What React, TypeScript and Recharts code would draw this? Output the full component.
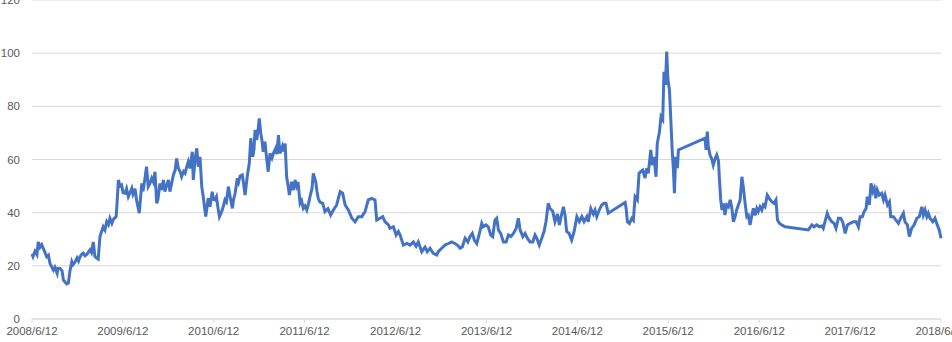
import { LineChart, Line, XAxis, YAxis, CartesianGrid } from "recharts"

// days since 2008/6/12
const days = [
  0, 4, 12, 20, 25, 32, 39, 48, 59, 66, 72, 86, 92, 101, 104, 113, 121, 126, 139, 146, 153, 160, 165, 173, 181, 187, 193, 201, 206, 213, 221, 233, 239, 246, 253, 261, 266, 273, 286, 293, 300, 307, 313, 321, 327, 338, 342, 347, 354, 360, 366, 374, 380, 387, 394, 401, 406, 414, 420, 431, 441, 446, 454, 460, 467, 474, 481, 488, 494, 501, 506, 514, 520,
  528, 534, 540, 548, 554, 561, 568, 575, 581, 588, 595, 601, 609, 615, 621, 628, 635, 644, 648, 655, 662, 668, 675, 682, 688, 698, 703, 708, 715, 724, 729, 735, 741, 747, 753, 762, 769, 775, 781, 789, 796, 805, 810, 816, 825, 830, 836, 845, 850, 856, 865, 873, 879, 887, 892, 896, 903, 908, 913, 919, 924, 929, 936, 942, 949, 956, 964, 970, 979, 984, 990, 996, 1006, 1010, 1017, 1023, 1029, 1034, 1043,
  1050, 1057, 1063, 1069, 1077, 1083, 1090, 1097, 1104, 1111, 1120, 1125, 1130, 1140, 1145, 1150, 1157, 1168, 1177, 1189, 1200, 1211, 1224, 1238, 1248, 1258, 1271, 1285, 1298, 1311, 1325, 1338, 1351, 1365, 1378, 1385, 1398, 1409, 1418, 1432, 1438, 1452, 1463, 1472, 1479, 1492, 1506, 1519, 1532, 1543, 1552, 1566, 1579,
  1588, 1599, 1612, 1626, 1632, 1646, 1659, 1673, 1686, 1699, 1709, 1720, 1729, 1740, 1751, 1760, 1769, 1777, 1787, 1796, 1807, 1813, 1824, 1833, 1843, 1851, 1860, 1867, 1874, 1883, 1894, 1905, 1914, 1924, 1934, 1945, 1954, 1961, 1972, 1981, 1990, 2001, 2012, 2021, 2028, 2038, 2048, 2057, 2065, 2074, 2081, 2092,
  2101, 2111, 2119, 2128, 2135, 2142, 2148, 2158, 2168, 2178, 2189, 2199, 2209, 2218, 2229, 2235, 2245, 2255, 2262, 2269, 2279, 2289, 2298, 2306, 2315, 2383, 2387, 2392, 2400, 2410, 2416, 2423, 2432, 2439, 2446, 2454, 2463, 2470, 2476, 2486, 2492, 2499, 2507, 2512, 2521, 2527, 2534, 2539, 2545, 2550, 2555, 2561, 2566, 2572, 2577, 2581, 2586, 2593, 2597,
  2704, 2708, 2713, 2717, 2724, 2731, 2737, 2744, 2751, 2758, 2762, 2767, 2772, 2778, 2784, 2791, 2798, 2805, 2811, 2818, 2825, 2831, 2838, 2845, 2852, 2858, 2865, 2872, 2878, 2885, 2892, 2898, 2905, 2912, 2918, 2925, 2932, 2938, 2945, 2954, 2962, 2972, 2981, 2989, 2995, 3003, 3012, 3026,
  3119, 3133, 3142, 3153, 3163, 3173, 3179, 3186, 3195, 3203, 3213, 3222, 3230, 3240, 3249, 3257, 3267, 3276, 3287, 3300, 3311, 3320, 3327, 3336, 3343, 3351, 3356, 3364, 3371, 3378, 3384, 3390, 3396, 3404, 3414, 3421, 3427, 3437, 3445, 3450, 3461, 3471, 3481, 3490, 3501, 3507, 3517, 3525, 3534, 3544, 3555, 3565, 3575, 3581, 3588, 3595, 3601, 3608, 3619, 3628, 3637, 3645, 3652,
]

const values = [
  24.5, 23.5, 25.5, 24.2, 29, 27, 28, 26, 23.4, 24, 21, 18.4, 19.5, 17.2, 19, 19, 18, 14.7, 13.2, 13.5, 18.4, 21.6, 20.5, 21.5, 23, 21.8, 23.4, 24.5, 24.8, 23.8, 24.4, 26, 25, 29, 23.4, 22.8, 22.5, 31, 34.7, 33.5, 36.6, 35.5, 37.9, 36, 37.5, 38.5, 44, 52.3, 50, 50.4, 47.5, 47.3, 49, 46, 47.5, 49.2, 47, 49, 44.8, 39.8, 51, 48, 53, 57.3, 49.8, 51, 53, 51.5, 55.4, 43.5, 45, 51, 48.5,
  52.3, 47.9, 50, 52.3, 47.9, 51, 54.2, 56, 60.4, 56.7, 55.5, 53.5, 55.5, 54.8, 57, 59.2, 56.7, 62.9, 52.3, 60, 64.2, 57.3, 61, 49.8, 46, 38.5, 42, 45.4, 42.2, 47.9, 45, 44.8, 46, 42, 38.5, 40.4, 42.5, 44.8, 44, 49.8, 46, 41.6, 45, 47.3, 53, 51.5, 53.8, 54.2, 51, 46.6, 53.8, 58.6, 68, 61, 64, 71.1, 67.3, 71, 75.5, 70, 67, 62.9, 66.7, 61, 55.4, 62.3, 60.5, 62.3, 64.2, 62, 69.2, 62.3, 65, 63, 66, 53.5, 50, 46.6, 51.6,
  48.5, 52.3, 50, 51.5, 43.5, 44.5, 41.6, 42.5, 41, 43.5, 47.3, 49, 54.8, 51.6, 48, 45.4, 44, 43.5, 40.4, 41.5, 39.1, 41, 42.9, 47.9, 47.3, 42.9, 41, 37.9, 36.6, 38.5, 38.5, 40.4, 44.8, 45.4, 44.8, 37.2, 37.9, 38.5, 36.6, 35.4, 34.1, 34.7, 31.6, 32.9, 31.6, 27.8, 28.4, 27.8, 29, 27.4, 29, 25.3, 27,
  25.3, 26.6, 24.7, 24.1, 25.3, 26.6, 27.8, 28.4, 29, 28.4, 27.8, 26.6, 27.2, 30.4, 29, 31, 32.2, 29.7, 28.4, 31.6, 36, 34.7, 35.4, 34.7, 31.6, 31, 37.2, 37.9, 33.5, 32.2, 29, 29, 31.6, 31, 32.2, 34.1, 37.9, 33.5, 31, 32.2, 30.4, 29, 29, 31.6, 30.4, 27.8, 30.4, 32.9, 36.6, 43.5, 41.6, 40.5,
  36.6, 39.5, 35.4, 39.5, 42.2, 38.8, 32.9, 32.2, 29.7, 32.9, 38.5, 36.6, 38.5, 36.6, 38.5, 36.6, 41.6, 39.5, 41, 38.5, 41, 42.9, 43.5, 43.5, 39.8, 43.8, 41.6, 36.6, 35.9, 37.9, 37.2, 46, 44.8, 54.8, 55.4, 56, 53, 56.7, 54.8, 63.6, 57.9, 61, 53.5, 66, 70.5, 76.1, 75, 93, 88, 100.6, 89.9, 86.2, 76, 63.6, 56, 47.3, 61, 56.7, 63.6,
  68, 63.6, 70.5, 65.2, 61.7, 60.2, 57.9, 60.2, 61.7, 59.5, 52.3, 44.8, 41, 43.5, 39.1, 42.9, 42.2, 44.8, 42.2, 36.6, 38.5, 41, 42.9, 44.8, 53.5, 49.5, 43.5, 38.5, 39, 35.4, 39, 41.6, 39, 41.6, 40.4, 42.2, 41, 42.9, 42.2, 46.6, 45.4, 44.1, 43.5, 44.8, 37.2, 36, 35.4, 34.7,
  33.5, 35.4, 34.7, 35.4, 34.7, 35, 34.1, 36.6, 39.8, 37.9, 36.6, 36, 34.1, 37.9, 37.9, 36.6, 32.2, 35.4, 36, 36.6, 36.6, 34.7, 38.5, 38.5, 40.4, 41.6, 46, 42.9, 51, 47.9, 49.2, 45.4, 48.5, 46.6, 47.3, 44.8, 46.6, 42.9, 44.1, 38.5, 38.5, 37.2, 36, 37.9, 39.8, 36.6, 35.4, 31, 34.1, 35.4, 37.9, 38.5, 42.2, 39.1, 41, 38.5, 39.8, 37.9, 36.6, 37.9, 35.4, 33.5, 30.4,
]

const yearTicks = [0, 365, 730, 1095, 1461, 1826, 2191, 2556, 2922, 3287, 3652]
const yearLabels = [
  "2008/6/12", "2009/6/12", "2010/6/12", "2011/6/12", "2012/6/12", "2013/6/12",
  "2014/6/12", "2015/6/12", "2016/6/12", "2017/6/12", "2018/6/12",
]
const valueTicks = [0, 20, 40, 60, 80, 100, 120]

const data = days.map((d, i) => ({ day: d, value: values[i] }))

const axisText = { fill: "#595959", fontSize: 11.5, fontFamily: "Liberation Sans, Arial, sans-serif" }

export default function App() {
  return (
    <div style={{ position: "absolute", left: 0, top: 0, width: 952, height: 342, background: "#fff" }}>
      <LineChart width={952} height={342} data={data} margin={{ top: 0, right: 11, left: 0, bottom: 0 }}>
        <CartesianGrid stroke="#d9d9d9" vertical={false} />
        <XAxis
          dataKey="day"
          type="number"
          domain={[0, 3652]}
          ticks={yearTicks}
          interval={0}
          tickFormatter={(v: number) => yearLabels[yearTicks.indexOf(v)]}
          tick={axisText}
          stroke="#d9d9d9"
          tickSize={4}
          tickMargin={4}
          height={23}
        />
        <YAxis
          domain={[0, 120]}
          ticks={valueTicks}
          interval={0}
          tick={axisText}
          axisLine={false}
          tickLine={false}
          tickSize={4}
          tickMargin={8}
          width={32}
        />
        <Line
          type="linear"
          dataKey="value"
          stroke="#4472C4"
          strokeWidth={3}
          dot={false}
          isAnimationActive={false}
        />
      </LineChart>
    </div>
  )
}
